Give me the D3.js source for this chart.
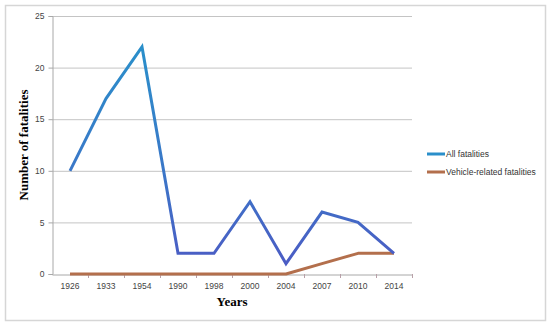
<!DOCTYPE html>
<html>
<head>
<meta charset="utf-8">
<script src="https://cdn.jsdelivr.net/npm/d3@7"></script>
<style>
  body { margin: 0; background: #fff; }
  svg { display: block; }
</style>
</head>
<body>
<svg id="chart" width="550" height="326"></svg>
<script>
const years = ['1926', '1933', '1954', '1990', '1998', '2000', '2004', '2007', '2010', '2014'];
const allFatalities = [10, 17, 22, 2, 2, 7, 1, 6, 5, 2];
const vehicleFatalities = [0, 0, 0, 0, 0, 0, 0, 1, 2, 2];
const yTicks = [0, 5, 10, 15, 20, 25];
const seriesNames = ['All fatalities', 'Vehicle-related fatalities'];

const svg = d3.select('#chart');
const plotL = 52, plotR = 412, plotT = 16, plotB = 274;

// outer frame
svg.append('rect')
    .attr('x', 5.5).attr('y', 5.5)
    .attr('width', 540).attr('height', 315)
    .attr('fill', '#fff').attr('stroke', '#d6d6d6').attr('stroke-width', 1.5);

const x = d3.scaleBand().domain(years).range([plotL, plotR]);
const y = d3.scaleLinear().domain([0, 25]).range([plotB, plotT]);

// gridlines
svg.append('g')
  .selectAll('line')
  .data(yTicks.filter(d => d > 0))
  .join('line')
    .attr('x1', plotL).attr('x2', plotR)
    .attr('y1', d => y(d) + 0.5).attr('y2', d => y(d) + 0.5)
    .attr('stroke', '#c4c4c4').attr('stroke-width', 1);

// y axis
const yAxis = svg.append('g')
    .attr('transform', `translate(${plotL + 0.5},0)`)
    .call(d3.axisLeft(y).tickValues(yTicks).tickSize(4).tickPadding(4));
yAxis.select('.domain').attr('stroke', '#a8a8a8');
yAxis.selectAll('.tick line').attr('stroke', '#a8a8a8');
yAxis.selectAll('text')
    .attr('font-family', '"Liberation Sans", Arial, sans-serif')
    .attr('font-size', 8.5).attr('fill', '#444');

// x axis
const xAxis = svg.append('g')
    .attr('transform', `translate(0,${plotB + 0.5})`)
    .call(d3.axisBottom(x).tickSize(0).tickPadding(8));
xAxis.select('.domain').attr('stroke', '#a8a8a8');
xAxis.selectAll('text')
    .attr('font-family', '"Liberation Sans", Arial, sans-serif')
    .attr('font-size', 8.5).attr('fill', '#444');
// ticks at band boundaries
svg.append('g')
  .selectAll('line')
  .data(years)
  .join('line')
    .attr('x1', d => x(d) + x.bandwidth() + 0.5)
    .attr('x2', d => x(d) + x.bandwidth() + 0.5)
    .attr('y1', plotB).attr('y2', plotB + 4)
    .attr('stroke', '#b8a0a8');

// axis titles
svg.append('text')
    .attr('x', (plotL + plotR) / 2).attr('y', 306)
    .attr('text-anchor', 'middle')
    .attr('font-family', '"Liberation Serif", "Times New Roman", serif')
    .attr('font-weight', 'bold').attr('font-size', 13)
    .text('Years');

svg.append('text')
    .attr('transform', `translate(28,${(plotT + plotB) / 2}) rotate(-90)`)
    .attr('text-anchor', 'middle')
    .attr('font-family', '"Liberation Serif", "Times New Roman", serif')
    .attr('font-weight', 'bold').attr('font-size', 13)
    .text('Number of fatalities');

// gradient for the blue line (lighter blue at top, purple-blue lower)
const defs = svg.append('defs');
const grad = defs.append('linearGradient')
    .attr('id', 'blueGrad')
    .attr('gradientUnits', 'userSpaceOnUse')
    .attr('x1', 0).attr('y1', y(22)).attr('x2', 0).attr('y2', y(1));
grad.append('stop').attr('offset', '0%').attr('stop-color', '#2a8fca');
grad.append('stop').attr('offset', '55%').attr('stop-color', '#3a78c8');
grad.append('stop').attr('offset', '100%').attr('stop-color', '#4b5cc4');

const line = d3.line()
    .x((d, i) => x(years[i]) + x.bandwidth() / 2)
    .y(d => y(d));

svg.append('path')
    .datum(vehicleFatalities)
    .attr('d', line)
    .attr('fill', 'none')
    .attr('stroke', '#b36f4c').attr('stroke-width', 3)
    .attr('stroke-linejoin', 'round');

svg.append('path')
    .datum(allFatalities)
    .attr('d', line)
    .attr('fill', 'none')
    .attr('stroke', 'url(#blueGrad)').attr('stroke-width', 3)
    .attr('stroke-linejoin', 'miter');

// legend
const legendColors = ['#2a8fca', '#b36f4c'];
const legend = svg.append('g');
seriesNames.forEach((name, i) => {
  const ly = 154 + i * 18;
  legend.append('line')
      .attr('x1', 427).attr('x2', 445)
      .attr('y1', ly).attr('y2', ly)
      .attr('stroke', legendColors[i]).attr('stroke-width', 3);
  legend.append('text')
      .attr('x', 446).attr('y', ly + 3)
      .attr('font-family', '"Liberation Sans", Arial, sans-serif')
      .attr('font-size', 8.5).attr('fill', '#333')
      .text(name);
});
</script>
</body>
</html>
